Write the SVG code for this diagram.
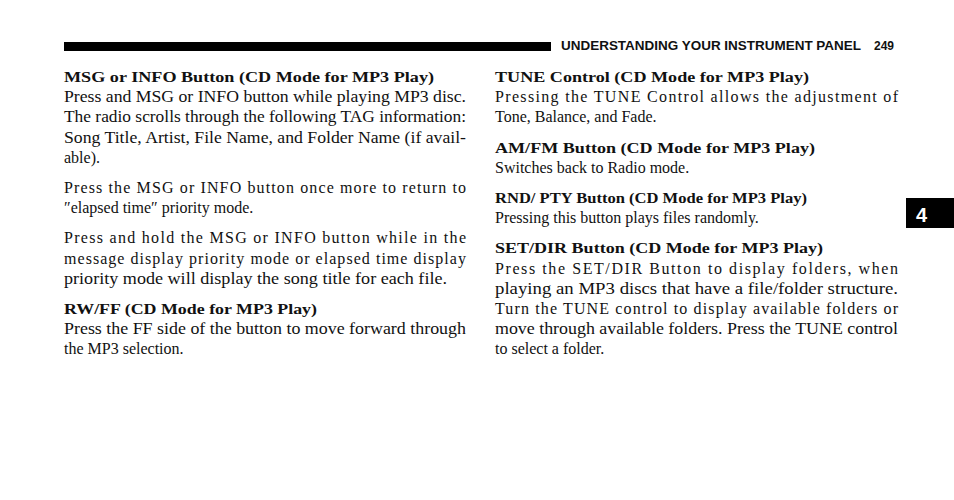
<svg xmlns="http://www.w3.org/2000/svg" width="954" height="500" viewBox="0 0 954 500">
<style>
text{font-family:"Liberation Serif","Times New Roman",serif;font-size:16px;fill:#111}
.h{font-weight:bold;font-size:15.5px}
.hd{font-family:"Liberation Sans",Arial,sans-serif;font-weight:bold;font-size:12px}
</style>
<rect width="954" height="500" fill="#fff"/>
<rect x="64" y="42" width="487" height="9" fill="#000"/>
<text class="hd" x="561" y="50" textLength="300" lengthAdjust="spacingAndGlyphs">UNDERSTANDING YOUR INSTRUMENT PANEL</text>
<text class="hd" x="874" y="50">249</text>
<rect x="906" y="198" width="48" height="30" fill="#000"/>
<text x="916" y="222" style="font-family:'Liberation Sans',Arial,sans-serif;font-weight:bold;font-size:20px;fill:#fff">4</text>
<g id="left">
<text class="h" x="64" y="82" textLength="370" lengthAdjust="spacingAndGlyphs">MSG or INFO Button (CD Mode for MP3 Play)</text>
<text x="64" y="102" textLength="402" lengthAdjust="spacingAndGlyphs">Press and MSG or INFO button while playing MP3 disc.</text>
<text x="64" y="122" textLength="402" lengthAdjust="spacingAndGlyphs">The radio scrolls through the following TAG information:</text>
<text x="64" y="143" textLength="402" lengthAdjust="spacingAndGlyphs">Song Title, Artist, File Name, and Folder Name (if avail-</text>
<text x="64" y="163">able).</text>
<text x="64" y="193" textLength="402" lengthAdjust="spacing">Press the MSG or INFO button once more to return to</text>
<text x="64" y="213">″elapsed time″ priority mode.</text>
<text x="64" y="243" textLength="402" lengthAdjust="spacing">Press and hold the MSG or INFO button while in the</text>
<text x="64" y="264" textLength="402" lengthAdjust="spacing">message display priority mode or elapsed time display</text>
<text x="64" y="284" textLength="383" lengthAdjust="spacingAndGlyphs">priority mode will display the song title for each file.</text>
<text class="h" x="64" y="314" textLength="253" lengthAdjust="spacingAndGlyphs">RW/FF (CD Mode for MP3 Play)</text>
<text x="64" y="334" textLength="402" lengthAdjust="spacingAndGlyphs">Press the FF side of the button to move forward through</text>
<text x="64" y="354">the MP3 selection.</text>
</g>
<g id="right">
<text class="h" x="495" y="82" textLength="314" lengthAdjust="spacingAndGlyphs">TUNE Control (CD Mode for MP3 Play)</text>
<text x="495" y="102" textLength="403" lengthAdjust="spacing">Pressing the TUNE Control allows the adjustment of</text>
<text x="495" y="122">Tone, Balance, and Fade.</text>
<text class="h" x="495" y="153" textLength="320" lengthAdjust="spacingAndGlyphs">AM/FM Button (CD Mode for MP3 Play)</text>
<text x="495" y="173">Switches back to Radio mode.</text>
<text class="h" x="495" y="203" textLength="312" lengthAdjust="spacingAndGlyphs">RND/ PTY Button (CD Mode for MP3 Play)</text>
<text x="495" y="223">Pressing this button plays files randomly.</text>
<text class="h" x="495" y="253" textLength="328" lengthAdjust="spacingAndGlyphs">SET/DIR Button (CD Mode for MP3 Play)</text>
<text x="495" y="274" textLength="403" lengthAdjust="spacing">Press the SET/DIR Button to display folders, when</text>
<text x="495" y="294" textLength="403" lengthAdjust="spacingAndGlyphs">playing an MP3 discs that have a file/folder structure.</text>
<text x="495" y="314" textLength="403" lengthAdjust="spacing">Turn the TUNE control to display available folders or</text>
<text x="495" y="334" textLength="403" lengthAdjust="spacingAndGlyphs">move through available folders. Press the TUNE control</text>
<text x="495" y="354">to select a folder.</text>
</g>
</svg>
